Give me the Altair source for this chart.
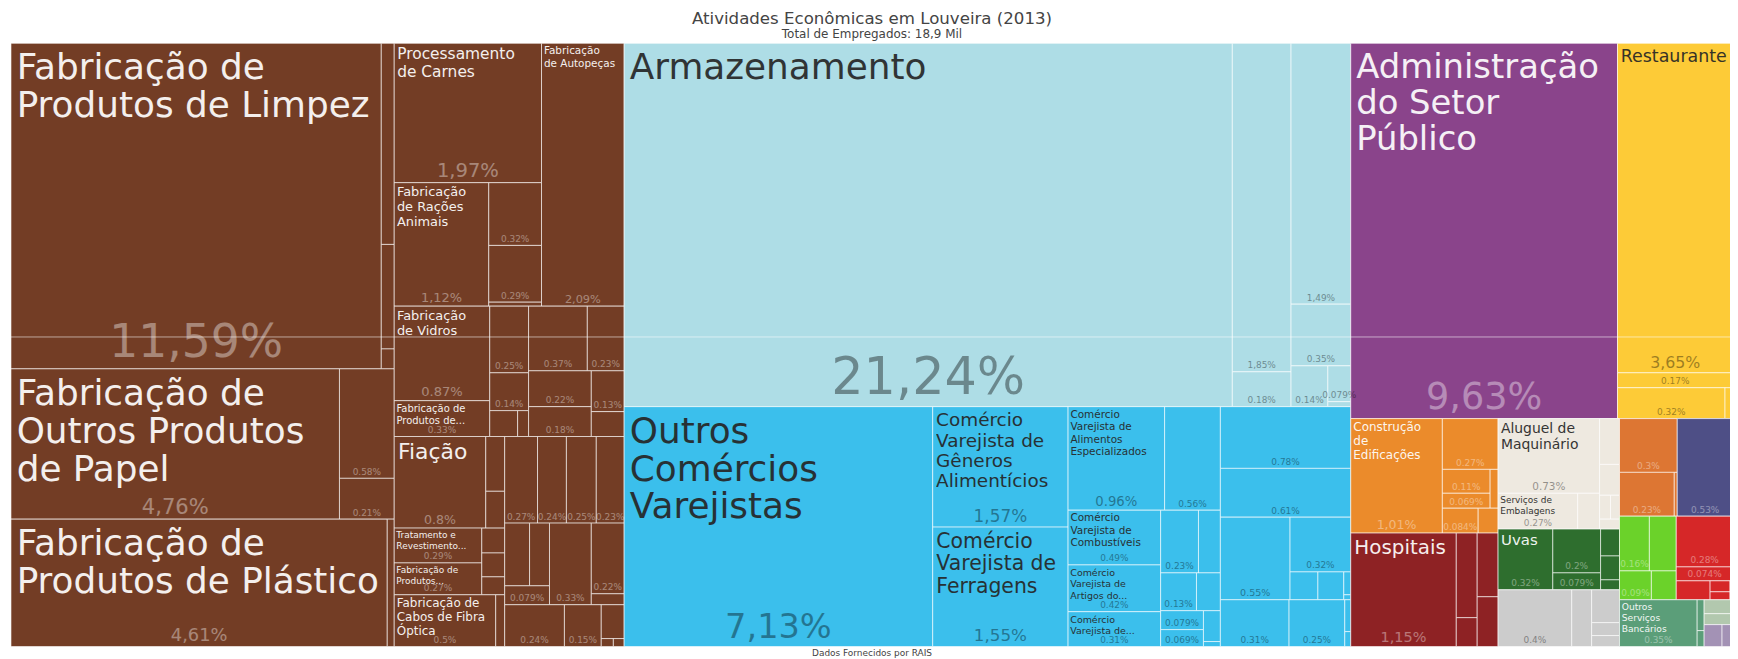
import math
import pandas as pd
import altair as alt

TITLE = "Atividades Econômicas em Louveira (2013)"
SUBTITLE = "Total de Empregados: 18,9 Mil"
FOOTER = "Dados Fornecidos por RAIS"

# (division, label, share of employees in %, share label shown)
INDUSTRIA = [
    ("quimicos", "Fabricação de\nProdutos de Limpez", 11.59, True),
    ("quimicos", "", 0.25, False), ("quimicos", "", 0.13, False), ("quimicos", "", 0.02, False),
    ("papel", "Fabricação de\nOutros Produtos\nde Papel", 4.76, True),
    ("papel", "", 0.58, True), ("papel", "", 0.21, True),
    ("plastico", "Fabricação de\nProdutos de Plástico", 4.61, True), ("plastico", "", 0.09, False),
    ("alimentos", "Processamento\nde Carnes", 1.97, True),
    ("alimentos", "Fabricação\nde Rações\nAnimais", 1.12, True),
    ("alimentos", "", 0.32, True), ("alimentos", "", 0.29, True), ("alimentos", "", 0.02, False),
    ("veiculos", "Fabricação\nde Autopeças", 2.09, True),
    ("minerais", "Fabricação\nde Vidros", 0.87, True),
    ("minerais", "Fabricação de\nProdutos de...", 0.33, True),
    ("minerais", "", 0.25, True), ("minerais", "", 0.14, True),
    ("minerais", "", 0.07, False), ("minerais", "", 0.02, False),
    ("metalurgia", "", 0.37, True), ("metalurgia", "", 0.23, True), ("metalurgia", "", 0.22, True),
    ("metalurgia", "", 0.18, True), ("metalurgia", "", 0.13, True), ("metalurgia", "", 0.08, False),
    ("textil", "Fiação", 0.8, True), ("textil", "", 0.1, False), ("textil", "", 0.07, False),
    ("metal", "Tratamento e\nRevestimento...", 0.29, True),
    ("metal", "Fabricação de\nProdutos...", 0.27, True),
    ("metal", "", 0.055, False), ("metal", "", 0.053, False), ("metal", "", 0.042, False),
    ("eletrico", "Fabricação de\nCabos de Fibra\nÓptica", 0.5, True), ("eletrico", "", 0.044, False),
    ("d1", "", 0.27, True), ("d1", "", 0.24, True),
    ("d2", "", 0.25, True), ("d2", "", 0.23, True),
    ("d3", "", 0.15, False), ("d3", "", 0.12, False), ("d3", "", 0.079, True),
    ("d4", "", 0.33, True),
    ("d5", "", 0.22, True), ("d5", "", 0.035, False),
    ("d6", "", 0.24, True),
    ("d7", "", 0.15, True),
    ("d8", "", 0.083, False), ("d8", "", 0.01, False), ("d8", "", 0.01, False),
]

TRANSPORTE = [
    ("armazenagem", "Armazenamento", 21.244, True),
    ("armazenagem", "", 1.854, True), ("armazenagem", "", 0.184, True),
    ("rodoviario", "", 1.494, True), ("rodoviario", "", 0.354, True), ("rodoviario", "", 0.144, True),
    ("rodoviario", "", 0.079, True), ("rodoviario", "", 0.01, False),
]

COMERCIO = [
    ("varejo", "Outros\nComércios\nVarejistas", 7.13, True),
    ("varejo", "Comércio\nVarejista de\nGêneros\nAlimentícios", 1.57, True),
    ("varejo", "Comércio\nVarejista de\nFerragens", 1.55, True),
    ("varejo", "Comércio\nVarejista de\nAlimentos\nEspecializados", 0.96, True),
    ("varejo", "", 0.56, True),
    ("varejo", "Comércio\nVarejista de\nCombustíveis", 0.49, True),
    ("varejo", "Comércio\nVarejista de\nArtigos do...", 0.42, True),
    ("varejo", "Comércio\nVarejista de...", 0.31, True),
    ("varejo", "", 0.23, True), ("varejo", "", 0.132, False), ("varejo", "", 0.13, True),
    ("varejo", "", 0.085, False), ("varejo", "", 0.079, True), ("varejo", "", 0.069, True),
    ("varejo", "", 0.05, False), ("varejo", "", 0.015, False), ("varejo", "", 0.008, False),
    ("atacado", "", 0.78, True), ("atacado", "", 0.61, True),
    ("atacado2", "", 0.55, True), ("atacado2", "", 0.32, True), ("atacado2", "", 0.075, False),
    ("atacado2", "", 0.068, False), ("atacado2", "", 0.015, False), ("atacado2", "", 0.004, False),
    ("atacado2", "", 0.003, False),
    ("veiculos", "", 0.31, True), ("veiculos", "", 0.25, True),
    ("veiculos", "", 0.018, False), ("veiculos", "", 0.007, False),
]

ADMINISTRACAO = [("publica", "Administração\ndo Setor\nPúblico", 9.63, True)]

ALOJAMENTO = [
    ("alimentacao", "Restaurante", 3.65, True), ("alimentacao", "", 0.17, True),
    ("alojamento", "", 0.32, True), ("alojamento", "", 0.025, False),
]

CONSTRUCAO = [
    ("edificios", "Construção\nde\nEdificações", 1.01, True),
    ("especializados", "", 0.27, True), ("especializados", "", 0.11, True),
    ("especializados", "", 0.069, True), ("especializados", "", 0.03, False),
    ("infra", "", 0.084, True), ("infra", "", 0.047, False),
]

SAUDE = [
    ("hospitais", "Hospitais", 1.15, True), ("hospitais", "", 0.17, False), ("hospitais", "", 0.06, False),
    ("outros", "", 0.13, False), ("outros", "", 0.10, False),
]

SERVICOS_ADM = [
    ("aluguel", "Aluguel de\nMaquinário", 0.73, True),
    ("apoio", "Serviços de\nEmbalagens", 0.27, True), ("apoio", "", 0.075, False),
    ("outros", "", 0.09, False), ("outros", "", 0.06, False), ("outros", "", 0.025, False),
    ("outros", "", 0.022, False), ("outros", "", 0.02, False),
]

AGROPECUARIA = [
    ("agricultura", "Uvas", 0.32, True), ("agricultura", "", 0.2, True), ("agricultura", "", 0.079, True),
    ("agricultura", "", 0.049, False), ("agricultura", "", 0.043, False), ("agricultura", "", 0.018, False),
]

OUTROS_SERVICOS = [
    ("a", "", 0.4, True), ("a", "", 0.107, False),
    ("b", "", 0.09, False), ("b", "", 0.035, False), ("b", "", 0.029, False),
]

EDUCACAO = [("e", "", 0.3, True), ("e", "", 0.23, True), ("e", "", 0.01, False)]
INFORMACAO = [("i", "", 0.53, True)]
PROFISSIONAIS = [("p", "", 0.16, True), ("p", "", 0.14, False), ("p", "", 0.09, True), ("p", "", 0.07, False)]
ARTES = [
    ("a", "", 0.28, True), ("a", "", 0.074, True),
    ("b", "", 0.06, False), ("b", "", 0.02, False), ("b", "", 0.015, False), ("b", "", 0.005, False),
]
FINANCEIRO = [
    ("f", "Outros\nServiços\nBancários", 0.35, True), ("g", "", 0.02, False), ("g", "", 0.01, False),
]
IMOBILIARIO = [("m", "", 0.04, False), ("m", "", 0.03, False)]
ELETRICIDADE = [("e", "", 0.03, False), ("e", "", 0.018, False)]

SECTIONS = [
    ("industria", INDUSTRIA), ("transporte", TRANSPORTE), ("comercio", COMERCIO),
    ("administracao", ADMINISTRACAO), ("alojamento", ALOJAMENTO), ("construcao", CONSTRUCAO),
    ("saude", SAUDE), ("servicos_adm", SERVICOS_ADM), ("agropecuaria", AGROPECUARIA),
    ("outros_servicos", OUTROS_SERVICOS), ("educacao", EDUCACAO), ("informacao", INFORMACAO),
    ("profissionais", PROFISSIONAIS), ("artes", ARTES), ("financeiro", FINANCEIRO),
    ("imobiliario", IMOBILIARIO), ("eletricidade", ELETRICIDADE),
]

# ---- styles ----
SECTION_STYLE = {
    "industria": ("#733d25", "light"),
    "transporte": ("#aedde6", "dark"),
    "comercio": ("#3bbfec", "dark"),
    "administracao": ("#8a448b", "light"),
    "alojamento": ("#fdcb37", "dark"),
    "construcao": ("#eb8b2b", "light"),
    "saude": ("#8e2224", "light"),
    "servicos_adm": ("#eee9e0", "dark"),
    "agropecuaria": ("#2e6e2e", "light"),
    "outros_servicos": ("#cccccc", "dark"),
    "educacao": ("#dd7633", "light"),
    "informacao": ("#4e4f86", "light"),
    "profissionais": ("#6bd22a", "light"),
    "artes": ("#d62728", "light"),
    "financeiro": ("#5b9e79", "light"),
    "imobiliario": ("#b2c8ae", "dark"),
    "eletricidade": ("#a392b5", "dark"),
}

NAME_FONT = {
    "Fabricação de\nProdutos de Limpez": 36,
    "Fabricação de\nOutros Produtos\nde Papel": 36,
    "Fabricação de\nProdutos de Plástico": 36,
    "Processamento\nde Carnes": 15.5,
    "Fabricação\nde Rações\nAnimais": 13,
    "Fabricação\nde Autopeças": 10.5,
    "Fabricação\nde Vidros": 13,
    "Fabricação de\nProdutos de...": 10,
    "Fiação": 22,
    "Tratamento e\nRevestimento...": 9,
    "Fabricação de\nProdutos...": 9,
    "Fabricação de\nCabos de Fibra\nÓptica": 12,
    "Armazenamento": 36,
    "Outros\nComércios\nVarejistas": 36,
    "Comércio\nVarejista de\nGêneros\nAlimentícios": 18.5,
    "Comércio\nVarejista de\nFerragens": 20.5,
    "Comércio\nVarejista de\nAlimentos\nEspecializados": 10.5,
    "Comércio\nVarejista de\nCombustíveis": 10.5,
    "Comércio\nVarejista de\nArtigos do...": 9.5,
    "Comércio\nVarejista de...": 9.5,
    "Administração\ndo Setor\nPúblico": 34,
    "Restaurante": 17.5,
    "Construção\nde\nEdificações": 12,
    "Hospitais": 20,
    "Aluguel de\nMaquinário": 14,
    "Serviços de\nEmbalagens": 9,
    "Uvas": 15,
    "Outros\nServiços\nBancários": 9.2,
}

TM_W, TM_H = 1730, 606          # treemap size
CH_W, CH_H = 1730, 651          # chart size
OFF_X, OFF_Y = 3, 34            # treemap offset inside chart

# ---- squarified treemap (golden ratio) ----
RATIO = 0.5 * (1 + math.sqrt(5))


def jsround(v):
    return math.floor(v + 0.5)


def build_tree():
    root = {"children": []}
    for sec_name, leaves in SECTIONS:
        sec = {"children": []}
        divs = {}
        for div, label, val, show in leaves:
            if div not in divs:
                divs[div] = {"children": []}
                sec["children"].append(divs[div])
            divs[div]["children"].append(
                {"label": label, "value": val, "show": show, "section": sec_name})
        root["children"].append(sec)

    def total(n):
        if "children" in n:
            n["value"] = sum(total(c) for c in n["children"])
        return n["value"]

    total(root)
    return root


def worst(row, u):
    s = sum(n["area"] for n in row)
    areas = [n["area"] for n in row if n["area"] > 0]
    if not s or not areas:
        return math.inf
    rmax, rmin = max(areas), min(areas)
    s2, u2 = s * s, u * u
    den = u2 * rmin * RATIO
    if den == 0:
        return math.inf
    return max(u2 * rmax * RATIO / s2, s2 / den)


def position(row, u, rect, flush):
    x, y = rect["x"], rect["y"]
    area = sum(n["area"] for n in row)
    v = jsround(area / u) if u else 0
    if u == rect["dx"]:
        if flush or v > rect["dy"]:
            v = rect["dy"]
        for n in row:
            n["x"], n["y"], n["dy"] = x, y, v
            n["dx"] = min(rect["x"] + rect["dx"] - x, jsround(n["area"] / v) if v else 0)
            x += n["dx"]
        row[-1]["dx"] += rect["x"] + rect["dx"] - x
        rect["y"] += v
        rect["dy"] -= v
    else:
        if flush or v > rect["dx"]:
            v = rect["dx"]
        for n in row:
            n["x"], n["y"], n["dx"] = x, y, v
            n["dy"] = min(rect["y"] + rect["dy"] - y, jsround(n["area"] / v) if v else 0)
            y += n["dy"]
        row[-1]["dy"] += rect["y"] + rect["dy"] - y
        rect["x"] += v
        rect["dx"] -= v


def squarify(node):
    ch = node.get("children")
    if not ch:
        return
    rect = {"x": node["x"], "y": node["y"], "dx": node["dx"], "dy": node["dy"]}
    k = rect["dx"] * rect["dy"] / node["value"]
    for c in ch:
        c["area"] = c["value"] * k
    remaining = sorted(ch, key=lambda c: c["value"])
    row, best = [], math.inf
    u = min(rect["dx"], rect["dy"])
    while remaining:
        child = remaining[-1]
        row.append(child)
        score = worst(row, u)
        if score <= best:
            remaining.pop()
            best = score
        else:
            row.pop()
            position(row, u, rect, False)
            u = min(rect["dx"], rect["dy"])
            row, best = [], math.inf
    if row:
        position(row, u, rect, True)
    for c in ch:
        squarify(c)


def leaves_of(n):
    if "children" in n:
        for c in n["children"]:
            yield from leaves_of(c)
    else:
        yield n


def fmt_share(v):
    if v >= 1:
        return f"{v:.2f}".replace(".", ",") + "%"
    return f"{v:.2g}%"


root = build_tree()
root.update(x=0, y=0, dx=TM_W, dy=TM_H)
squarify(root)

rows = []
for lf in leaves_of(root):
    fill, mode = SECTION_STYLE[lf["section"]]
    x0, y0 = lf["x"], lf["y"]
    x1, y1 = x0 + lf["dx"], y0 + lf["dy"]
    w, h = x1 - x0, y1 - y0
    if w <= 0 or h <= 0:
        continue
    nfs = NAME_FONT.get(lf["label"], 10)
    sfs = max(9.0, min(52.0, 0.14 * h, 0.137 * w))
    rows.append({
        "x0": x0, "x1": x1, "y0": y0, "y1": y1, "fill": fill,
        "label": lf["label"], "nfs": nfs,
        "nx": x0 + 0.13 * nfs + 1, "ny": y0 + 0.2 * nfs + 1,
        "ncol": "#ffffff" if mode == "light" else "#262626",
        "share": fmt_share(lf["value"]) if lf["show"] else "",
        "sfs": sfs, "sx": (x0 + x1) / 2, "sy": y1 - 1.5,
        "scol": "#ffffff" if mode == "light" else "#000000",
    })
df = pd.DataFrame(rows)

xs = alt.Scale(domain=[-OFF_X, CH_W - OFF_X], range=[0, CH_W], nice=False, zero=False)
ys = alt.Scale(domain=[-OFF_Y, CH_H - OFF_Y], range=[0, CH_H], nice=False, zero=False)

base = alt.Chart(df)

cells = base.mark_rect(stroke="white", strokeWidth=1, strokeOpacity=0.6).encode(
    x=alt.X("x0:Q", scale=xs, axis=None), x2="x1:Q",
    y=alt.Y("y0:Q", scale=ys, axis=None), y2="y1:Q",
    color=alt.Color("fill:N", scale=None),
)

# faint horizontal line crossing the upper part of the map
guide = alt.Chart(pd.DataFrame({"gy": [295]})).mark_rule(
    color="white", strokeWidth=1, opacity=0.55
).encode(y=alt.Y("gy:Q", scale=ys, axis=None), x=alt.value(OFF_X), x2=alt.value(OFF_X + TM_W))

names = base.transform_filter("datum.label != ''").mark_text(
    align="left", baseline="top", lineBreak="\n", font="DejaVu Sans", opacity=0.92
).encode(
    x=alt.X("nx:Q", scale=xs, axis=None), y=alt.Y("ny:Q", scale=ys, axis=None),
    text="label:N", size=alt.Size("nfs:Q", scale=None),
    color=alt.Color("ncol:N", scale=None),
)

shares = base.transform_filter("datum.share != ''").mark_text(
    align="center", baseline="bottom", font="DejaVu Sans", opacity=0.38
).encode(
    x=alt.X("sx:Q", scale=xs, axis=None), y=alt.Y("sy:Q", scale=ys, axis=None),
    text="share:N", size=alt.Size("sfs:Q", scale=None),
    color=alt.Color("scol:N", scale=None),
)

txt = pd.DataFrame({"t": [TITLE], "s": [SUBTITLE], "f": [FOOTER]})
title = alt.Chart(txt).mark_text(font="DejaVu Sans", fontSize=16.7, color="#444444", baseline="middle").encode(
    text="t:N", x=alt.value(OFF_X + TM_W / 2), y=alt.value(9.5))
subtitle = alt.Chart(txt).mark_text(font="DejaVu Sans", fontSize=12, color="#444444", baseline="middle").encode(
    text="s:N", x=alt.value(OFF_X + TM_W / 2), y=alt.value(25))
footer = alt.Chart(txt).mark_text(font="DejaVu Sans", fontSize=9, color="#444444", baseline="middle").encode(
    text="f:N", x=alt.value(OFF_X + TM_W / 2), y=alt.value(646.5))

chart = alt.layer(cells, guide, names, shares, title, subtitle, footer).properties(
    width=CH_W, height=CH_H, autosize="none", padding=0
).configure_view(strokeWidth=0)

chart.save("out.html", embed_options={"renderer": "svg", "actions": False})
